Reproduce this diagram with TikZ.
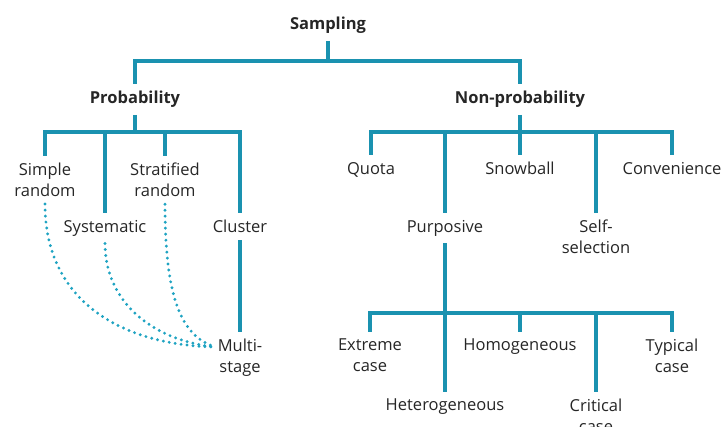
\documentclass[tikz,border=0pt]{standalone}
\usepackage{fontspec}
\setmainfont{Open Sans}
\definecolor{linecol}{HTML}{1A92B0}
\definecolor{dotcol}{HTML}{1FA3C2}
\definecolor{textcol}{HTML}{262626}
\begin{document}
\begin{tikzpicture}[x=1pt,y=-1pt,
  lbl/.style={font=\fontsize{16.5}{21}\selectfont, align=center, anchor=north,
              inner xsep=2pt, inner ysep=7pt, text=textcol},
  head/.style={lbl, font=\fontsize{16.5}{21}\selectfont\bfseries},
  conn/.style={draw=linecol, line width=3.3pt, line join=miter},
  dotty/.style={draw=dotcol, line width=3.2pt, line cap=round, dash pattern=on 0pt off 6pt}]
\useasboundingbox (0,0) rectangle (723,427);

% top level
\node[head] (samp)    at (328,10) {Sampling};
\node[head] (prob)    at (135,84) {Probability};
\node[head] (nonprob) at (520,84) {Non-probability};

% probability branch
\node[lbl] (simple)  at (45,156)  {Simple\\random};
\node[lbl] (sys)     at (105,213) {Systematic};
\node[lbl] (strat)   at (165,156) {Stratified\\random};
\node[lbl] (cluster) at (240,213) {Cluster};
\node[lbl] (multi)   at (240,332) {Multi-\\stage};

% non-probability branch
\node[lbl] (quota)   at (371,155) {Quota};
\node[lbl] (purp)    at (445,213) {Purposive};
\node[lbl] (snow)    at (520,155) {Snowball};
\node[lbl] (self)    at (596,213) {Self-\\selection};
\node[lbl] (conv)    at (672,155) {Convenience};

% purposive sub-types
\node[lbl] (extreme) at (370,332) {Extreme\\case};
\node[lbl] (hetero)  at (445,392) {Heterogeneous};
\node[lbl] (homog)   at (520,332) {Homogeneous};
\node[lbl] (crit)    at (596,392) {Critical\\case};
\node[lbl] (typical) at (672,332) {Typical\\case};

% bus levels
\coordinate (b0) at (0,61);
\coordinate (b1) at (0,132);
\coordinate (b3) at (0,313);
\coordinate (mjoin) at (215,347);

% tree connectors
\draw[conn] (samp.south) -- (samp.south |- b0);
\draw[conn] (prob.north) |- (nonprob.north |- b0) -- (nonprob.north);

\draw[conn] (prob.south) -- (prob.south |- b1);
\draw[conn] (simple.north) |- (cluster.north |- b1) -- (cluster.north);
\draw[conn] (sys.north) -- (sys.north |- b1);
\draw[conn] (strat.north) -- (strat.north |- b1);
\draw[conn] (cluster.south) -- (multi.north);

\draw[conn] (nonprob.south) -- (nonprob.south |- b1);
\draw[conn] (quota.north) |- (conv.north |- b1) -- (conv.north);
\draw[conn] (purp.north) -- (purp.north |- b1);
\draw[conn] (snow.north) -- (snow.north |- b1);
\draw[conn] (self.north) -- (self.north |- b1);

\draw[conn] (purp.south) -- (purp.south |- b3);
\draw[conn] (extreme.north) |- (typical.north |- b3) -- (typical.north);
\draw[conn] (hetero.north) -- (hetero.north |- b3);
\draw[conn] (homog.north) -- (homog.north |- b3);
\draw[conn] (crit.north) -- (crit.north |- b3);

% dotted links into multi-stage
\draw[dotty] (simple.south) .. controls (45,300) and (120,345) .. (mjoin);
\draw[dotty] (sys.south) .. controls (105,300) and (150,340) .. (mjoin);
\draw[dotty] (strat.south) .. controls (165,300) and (182,336) .. (mjoin);
\end{tikzpicture}
\end{document}
